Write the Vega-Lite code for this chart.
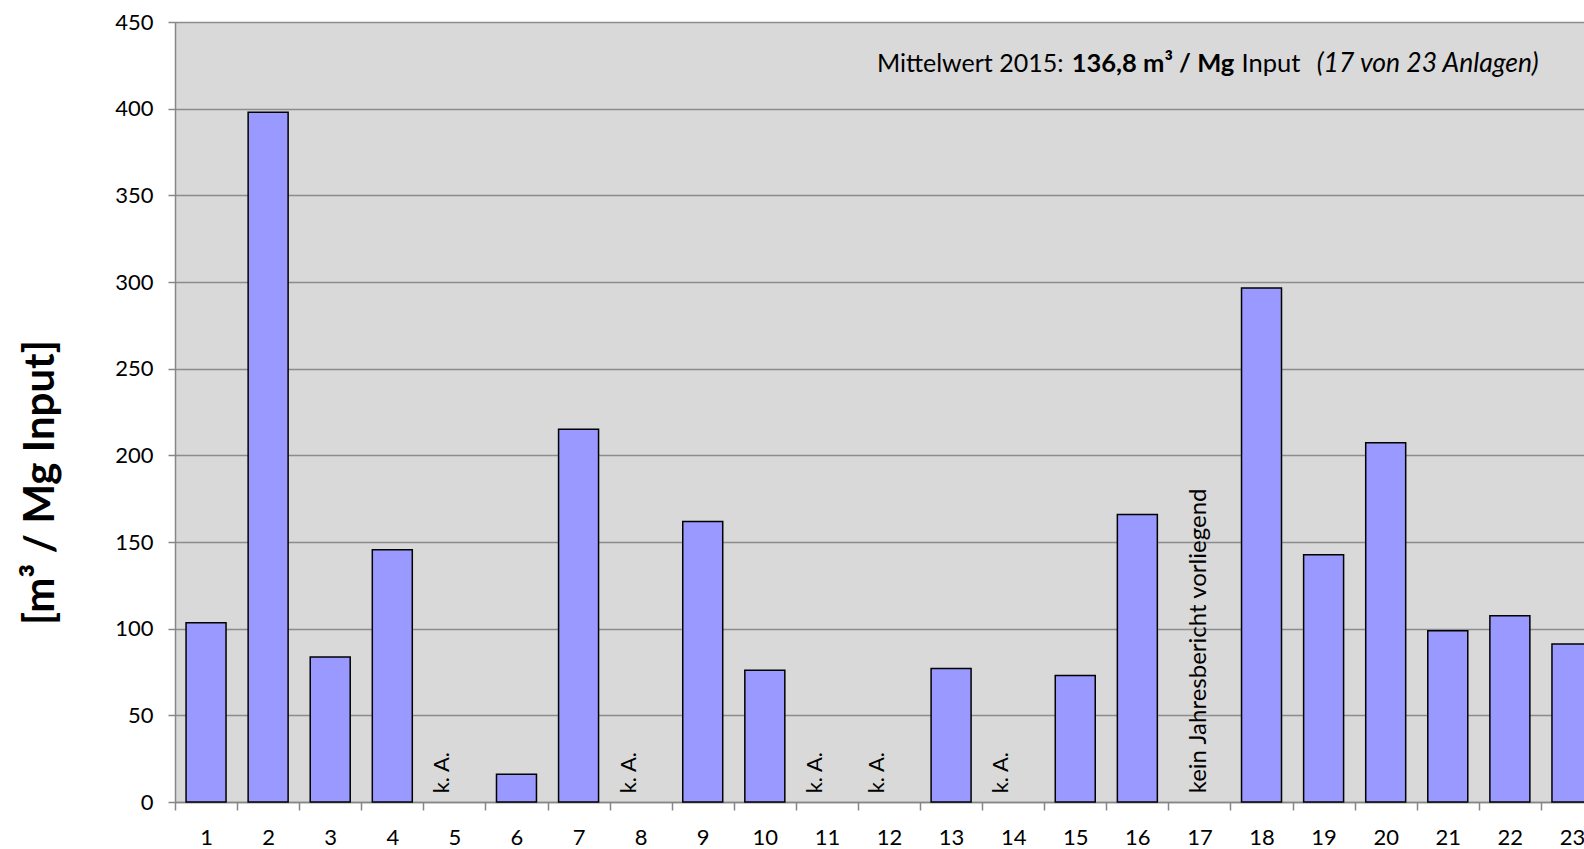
{
  "$schema": "https://vega.github.io/schema/vega-lite/v6.json",
  "width": 1409,
  "height": 780,
  "autosize": {"type": "none"},
  "padding": {"left": 175, "top": 22, "right": 0, "bottom": 47},
  "background": "#FFFFFF",
  "config": {
    "view": {"fill": "#D9D9D9", "stroke": null},
    "font": "Lato",
    "text": {"font": "Lato", "color": "#000000"}
  },
  "datasets": {
    "anlagen": [
      {"Anlage": 1, "Wert": 103.4, "Hinweis": null},
      {"Anlage": 2, "Wert": 398.0, "Hinweis": null},
      {"Anlage": 3, "Wert": 83.7, "Hinweis": null},
      {"Anlage": 4, "Wert": 145.5, "Hinweis": null},
      {"Anlage": 5, "Wert": null, "Hinweis": "k. A."},
      {"Anlage": 6, "Wert": 16.0, "Hinweis": null},
      {"Anlage": 7, "Wert": 215.0, "Hinweis": null},
      {"Anlage": 8, "Wert": null, "Hinweis": "k. A."},
      {"Anlage": 9, "Wert": 161.8, "Hinweis": null},
      {"Anlage": 10, "Wert": 76.0, "Hinweis": null},
      {"Anlage": 11, "Wert": null, "Hinweis": "k. A."},
      {"Anlage": 12, "Wert": null, "Hinweis": "k. A."},
      {"Anlage": 13, "Wert": 77.0, "Hinweis": null},
      {"Anlage": 14, "Wert": null, "Hinweis": "k. A."},
      {"Anlage": 15, "Wert": 73.0, "Hinweis": null},
      {"Anlage": 16, "Wert": 165.9, "Hinweis": null},
      {"Anlage": 17, "Wert": null, "Hinweis": "kein Jahresbericht vorliegend"},
      {"Anlage": 18, "Wert": 296.5, "Hinweis": null},
      {"Anlage": 19, "Wert": 142.6, "Hinweis": null},
      {"Anlage": 20, "Wert": 207.3, "Hinweis": null},
      {"Anlage": 21, "Wert": 98.8, "Hinweis": null},
      {"Anlage": 22, "Wert": 107.5, "Hinweis": null},
      {"Anlage": 23, "Wert": 91.2, "Hinweis": null}
    ]
  },
  "data": {"name": "anlagen"},
  "layer": [
    {
      "mark": {"type": "bar", "fill": "#9999FF", "stroke": "#000000", "strokeWidth": 1.5, "width": {"band": 0.644}},
      "encoding": {
        "x": {
          "field": "Anlage",
          "type": "ordinal",
          "scale": {"range": [0, 1428], "paddingInner": 0, "paddingOuter": 0},
          "axis": {
            "title": null,
            "labelAngle": 0,
            "tickBand": "extent",
            "labelFont": "Lato",
            "labelFontSize": 22,
            "labelColor": "#000000",
            "labelPadding": 17,
            "tickSize": 8,
            "tickColor": "#868686",
            "tickWidth": 1.5,
            "domainColor": "#868686",
            "domainWidth": 1.5,
            "grid": false
          }
        },
        "y": {
          "field": "Wert",
          "type": "quantitative",
          "scale": {"domain": [0, 450], "nice": false},
          "axis": {
            "values": [0, 50, 100, 150, 200, 250, 300, 350, 400, 450],
            "title": "[m³ / Mg Input]",
            "titleFont": "Lato",
            "titleFontSize": 42,
            "titleFontWeight": "bold",
            "titleColor": "#000000",
            "titleAngle": 270,
            "titleX": -113,
            "titleY": 460,
            "titleAlign": "center",
            "titleBaseline": "bottom",
            "labelFont": "Lato",
            "labelFontSize": 22,
            "labelColor": "#000000",
            "labelPadding": 15,
            "tickSize": 7,
            "tickColor": "#868686",
            "tickWidth": 1.5,
            "domainColor": "#868686",
            "domainWidth": 1.5,
            "gridColor": "#8C8C8C",
            "gridWidth": 1.5
          }
        }
      }
    },
    {
      "transform": [{"filter": "datum.Hinweis === 'k. A.'"}],
      "mark": {"type": "text", "angle": 270, "align": "left", "baseline": "bottom", "fontSize": 22},
      "encoding": {
        "x": {"field": "Anlage", "type": "ordinal"},
        "y": {"datum": 5},
        "text": {"field": "Hinweis"}
      }
    },
    {
      "transform": [{"filter": "datum.Hinweis === 'kein Jahresbericht vorliegend'"}],
      "mark": {"type": "text", "angle": 270, "align": "left", "baseline": "bottom", "fontSize": 24, "dy": 12},
      "encoding": {
        "x": {"field": "Anlage", "type": "ordinal"},
        "y": {"datum": 5},
        "text": {"field": "Hinweis"}
      }
    },
    {
      "data": {"values": [{"t": "Mittelwert 2015:"}]},
      "mark": {"type": "text", "align": "left", "baseline": "alphabetic", "fontSize": 25, "dx": 19},
      "encoding": {
        "x": {"datum": 12, "type": "ordinal", "bandPosition": 0},
        "y": {"datum": 421},
        "text": {"field": "t"}
      }
    },
    {
      "data": {"values": [{"t": "136,8 m³ / Mg"}]},
      "mark": {"type": "text", "align": "left", "baseline": "alphabetic", "fontSize": 25.5, "fontWeight": "bold", "dx": 27.5},
      "encoding": {
        "x": {"datum": 15, "type": "ordinal", "bandPosition": 0},
        "y": {"datum": 421},
        "text": {"field": "t"}
      }
    },
    {
      "data": {"values": [{"t": "Input"}]},
      "mark": {"type": "text", "align": "left", "baseline": "alphabetic", "fontSize": 25.5, "dx": 11},
      "encoding": {
        "x": {"datum": 18, "type": "ordinal", "bandPosition": 0},
        "y": {"datum": 421},
        "text": {"field": "t"}
      }
    },
    {
      "data": {"values": [{"t": "(17 von 23 Anlagen)"}]},
      "mark": {"type": "text", "align": "left", "baseline": "alphabetic", "fontSize": 26.5, "fontStyle": "italic", "dx": 24.2},
      "encoding": {
        "x": {"datum": 19, "type": "ordinal", "bandPosition": 0},
        "y": {"datum": 421},
        "text": {"field": "t"}
      }
    }
  ]
}
